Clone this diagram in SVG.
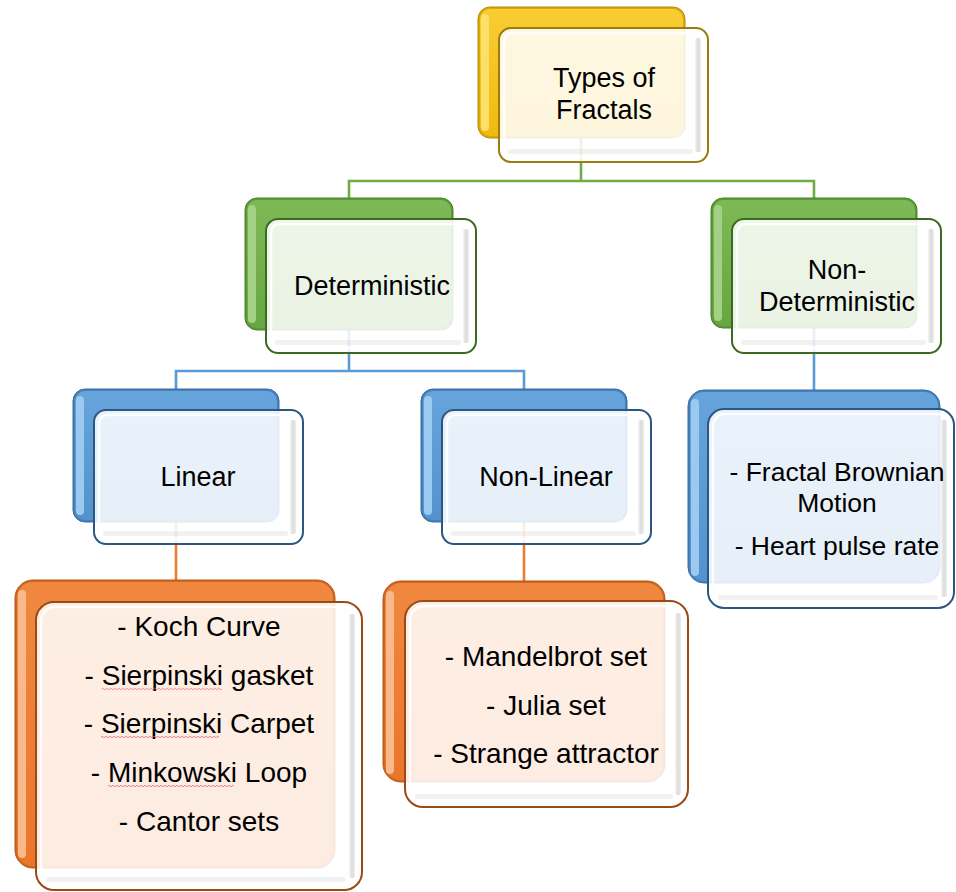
<svg xmlns="http://www.w3.org/2000/svg" width="956" height="892" viewBox="0 0 956 892">
<style>
.bo{stroke-width:1}
.fo{fill:#ffffff;fill-opacity:.86;stroke-width:2}
.fw{fill:none;stroke:#ffffff;stroke-width:2.5;opacity:.85}
.fr{fill:url(#gBevel);opacity:.75}
.fb{fill:#d4d4d4;opacity:.3}
.gold .bo{fill:#D9A90E;stroke:#B58C05}
.gold .bl{fill:#FDE06A}
.gold .bf{fill:url(#gGold)}
.gold .fo{stroke:#9C7C10}
.green .bo{fill:#5C9A38;stroke:#4B7F2C}
.green .bl{fill:#A2D185}
.green .bf{fill:url(#gGreen)}
.green .fo{stroke:#3B6A23}
.blue .bo{fill:#4681BE;stroke:#386BA0}
.blue .bl{fill:#9CC9EF}
.blue .bf{fill:url(#gBlue)}
.blue .fo{stroke:#2C5782}
.orange .bo{fill:#D4671F;stroke:#B45617}
.orange .bl{fill:#F9B98C}
.orange .bf{fill:url(#gOrange)}
.orange .fo{stroke:#9C4A14}
.t{font-family:"Liberation Sans",Arial,sans-serif;font-size:27px;fill:#000;text-anchor:middle}
.l{font-size:28px}
.m{font-size:26.5px}
.sq{fill:none;stroke:#E06666;stroke-width:.9;opacity:.85}
.c{fill:none;stroke-width:2.6}
</style>
<defs>
<linearGradient id="gGold" x1="0" y1="0" x2="0" y2="1"><stop offset="0" stop-color="#F9CD33"/><stop offset="1" stop-color="#F1BA10"/></linearGradient>
<linearGradient id="gGreen" x1="0" y1="0" x2="0" y2="1"><stop offset="0" stop-color="#7DB955"/><stop offset="1" stop-color="#68A641"/></linearGradient>
<linearGradient id="gBlue" x1="0" y1="0" x2="0" y2="1"><stop offset="0" stop-color="#66A4DB"/><stop offset="1" stop-color="#5492CE"/></linearGradient>
<linearGradient id="gOrange" x1="0" y1="0" x2="0" y2="1"><stop offset="0" stop-color="#F08840"/><stop offset="1" stop-color="#EA762A"/></linearGradient>
<linearGradient id="gBevel" x1="0" y1="0" x2="1" y2="0"><stop offset="0" stop-color="#f2f2f2"/><stop offset=".5" stop-color="#cfcfcf"/><stop offset="1" stop-color="#e6e6e6"/></linearGradient>
</defs>
<rect width="956" height="892" fill="#ffffff"/>

<g id="connectors">
<path class="c" stroke="#70AD47" d="M581 138V181M349 198V181H814V198"/>
<path class="c" stroke="#5B9BD5" d="M349 330V371M176 389V371H524V389M814 328V390"/>
<path class="c" stroke="#ED7D31" d="M176 522V580M524 522V581"/>
</g>

<g id="types" class="gold">
<rect class="bo" x="478" y="7" width="207" height="131" rx="12"/>
<rect class="bf" x="480" y="9" width="203" height="127" rx="10"/>
<rect class="bl" x="481" y="14" width="8" height="117" rx="4"/>
<rect class="fo" x="499" y="28" width="209" height="134" rx="12"/>
<rect class="fw" x="504" y="33" width="199" height="124" rx="8"/>
<rect class="fr" x="695" y="38" width="6" height="114" rx="2"/>
<rect class="fb" x="508" y="149" width="185" height="5" rx="2"/>
<text class="t" x="604" y="87">Types of</text>
<text class="t" x="604" y="119">Fractals</text>
</g>

<g id="deterministic" class="green">
<rect class="bo" x="245" y="198" width="208" height="132" rx="12"/>
<rect class="bf" x="247" y="200" width="204" height="128" rx="10"/>
<rect class="bl" x="248" y="205" width="8" height="118" rx="4"/>
<rect class="fo" x="266" y="219" width="210" height="134" rx="12"/>
<rect class="fw" x="271" y="224" width="200" height="124" rx="8"/>
<rect class="fr" x="463" y="229" width="6" height="114" rx="2"/>
<rect class="fb" x="275" y="340" width="186" height="5" rx="2"/>
<text class="t" x="372" y="295">Deterministic</text>
</g>

<g id="non-deterministic" class="green">
<rect class="bo" x="711" y="198" width="206" height="130" rx="12"/>
<rect class="bf" x="713" y="200" width="202" height="126" rx="10"/>
<rect class="bl" x="714" y="205" width="8" height="116" rx="4"/>
<rect class="fo" x="732" y="219" width="209" height="134" rx="12"/>
<rect class="fw" x="737" y="224" width="199" height="124" rx="8"/>
<rect class="fr" x="928" y="229" width="6" height="114" rx="2"/>
<rect class="fb" x="741" y="340" width="185" height="5" rx="2"/>
<text class="t" x="837" y="279">Non-</text>
<text class="t" x="837" y="311">Deterministic</text>
</g>

<g id="linear" class="blue">
<rect class="bo" x="73" y="389" width="206" height="133" rx="12"/>
<rect class="bf" x="75" y="391" width="202" height="129" rx="10"/>
<rect class="bl" x="76" y="396" width="8" height="119" rx="4"/>
<rect class="fo" x="94" y="410" width="209" height="134" rx="12"/>
<rect class="fw" x="99" y="415" width="199" height="124" rx="8"/>
<rect class="fr" x="290" y="420" width="6" height="114" rx="2"/>
<rect class="fb" x="103" y="531" width="185" height="5" rx="2"/>
<text class="t" x="198" y="486">Linear</text>
</g>

<g id="non-linear" class="blue">
<rect class="bo" x="421" y="389" width="206" height="133" rx="12"/>
<rect class="bf" x="423" y="391" width="202" height="129" rx="10"/>
<rect class="bl" x="424" y="396" width="8" height="119" rx="4"/>
<rect class="fo" x="442" y="410" width="209" height="134" rx="12"/>
<rect class="fw" x="447" y="415" width="199" height="124" rx="8"/>
<rect class="fr" x="638" y="420" width="6" height="114" rx="2"/>
<rect class="fb" x="451" y="531" width="185" height="5" rx="2"/>
<text class="t" x="546" y="486">Non-Linear</text>
</g>

<g id="non-deterministic-examples" class="blue">
<rect class="bo" x="688" y="390" width="252" height="193" rx="16"/>
<rect class="bf" x="690" y="392" width="248" height="189" rx="14"/>
<rect class="bl" x="691" y="399" width="8" height="177" rx="4"/>
<rect class="fo" x="708" y="409" width="246" height="199" rx="16"/>
<rect class="fw" x="713" y="414" width="236" height="189" rx="12"/>
<rect class="fr" x="941" y="420" width="6" height="177" rx="2"/>
<rect class="fb" x="718" y="595" width="220" height="5" rx="2"/>
<text class="t m" x="837" y="481">- Fractal Brownian</text>
<text class="t m" x="837" y="512">Motion</text>
<text class="t m" x="837" y="555">- Heart pulse rate</text>
</g>

<g id="linear-examples" class="orange">
<rect class="bo" x="15" y="580" width="320" height="288" rx="18"/>
<rect class="bf" x="17" y="582" width="316" height="284" rx="16"/>
<rect class="bl" x="18" y="590" width="8" height="268" rx="4"/>
<rect class="fo" x="36" y="602" width="326" height="288" rx="18"/>
<rect class="fw" x="41" y="607" width="316" height="278" rx="14"/>
<rect class="fr" x="349" y="614" width="6" height="264" rx="2"/>
<rect class="fb" x="46" y="877" width="300" height="5" rx="2"/>
<text class="t l" x="199" y="636">- Koch Curve</text>
<text class="t l" x="199" y="685">- Sierpinski gasket</text>
<text class="t l" x="199" y="733">- Sierpinski Carpet</text>
<text class="t l" x="199" y="782">- Minkowski Loop</text>
<text class="t l" x="199" y="831">- Cantor sets</text>
<path class="sq" d="M101.7 689q1-1.4 2 0t2 0t2 0t2 0t2 0t2 0t2 0t2 0t2 0t2 0t2 0t2 0t2 0t2 0t2 0t2 0t2 0t2 0t2 0t2 0t2 0t2 0t2 0t2 0t2 0t2 0t2 0t2 0t2 0t2 0t2 0t2 0t2 0t2 0t2 0t2 0t2 0t2 0t2 0t2 0t2 0t2 0t2 0t2 0t2 0t2 0t2 0t2 0t2 0t2 0t2 0t2 0t2 0t2 0t2 0t2 0t2 0t2 0t2 0t2 0"/>
<path class="sq" d="M101 737q1-1.4 2 0t2 0t2 0t2 0t2 0t2 0t2 0t2 0t2 0t2 0t2 0t2 0t2 0t2 0t2 0t2 0t2 0t2 0t2 0t2 0t2 0t2 0t2 0t2 0t2 0t2 0t2 0t2 0t2 0t2 0t2 0t2 0t2 0t2 0t2 0t2 0t2 0t2 0t2 0t2 0t2 0t2 0t2 0t2 0t2 0t2 0t2 0t2 0t2 0t2 0t2 0t2 0t2 0t2 0t2 0t2 0t2 0t2 0t2 0"/>
<path class="sq" d="M108 786q1-1.4 2 0t2 0t2 0t2 0t2 0t2 0t2 0t2 0t2 0t2 0t2 0t2 0t2 0t2 0t2 0t2 0t2 0t2 0t2 0t2 0t2 0t2 0t2 0t2 0t2 0t2 0t2 0t2 0t2 0t2 0t2 0t2 0t2 0t2 0t2 0t2 0t2 0t2 0t2 0t2 0t2 0t2 0t2 0t2 0t2 0t2 0t2 0t2 0t2 0t2 0t2 0t2 0t2 0t2 0t2 0t2 0t2 0t2 0t2 0t2 0t2 0t2 0t2 0"/>
</g>

<g id="non-linear-examples" class="orange">
<rect class="bo" x="383" y="581" width="282" height="201" rx="18"/>
<rect class="bf" x="385" y="583" width="278" height="197" rx="16"/>
<rect class="bl" x="386" y="591" width="8" height="183" rx="4"/>
<rect class="fo" x="405" y="601" width="283" height="206" rx="18"/>
<rect class="fw" x="410" y="606" width="273" height="196" rx="14"/>
<rect class="fr" x="675" y="613" width="6" height="182" rx="2"/>
<rect class="fb" x="415" y="794" width="258" height="5" rx="2"/>
<text class="t l" x="546" y="666">- Mandelbrot set</text>
<text class="t l" x="546" y="715">- Julia set</text>
<text class="t l" x="546" y="763">- Strange attractor</text>
</g>
</svg>
